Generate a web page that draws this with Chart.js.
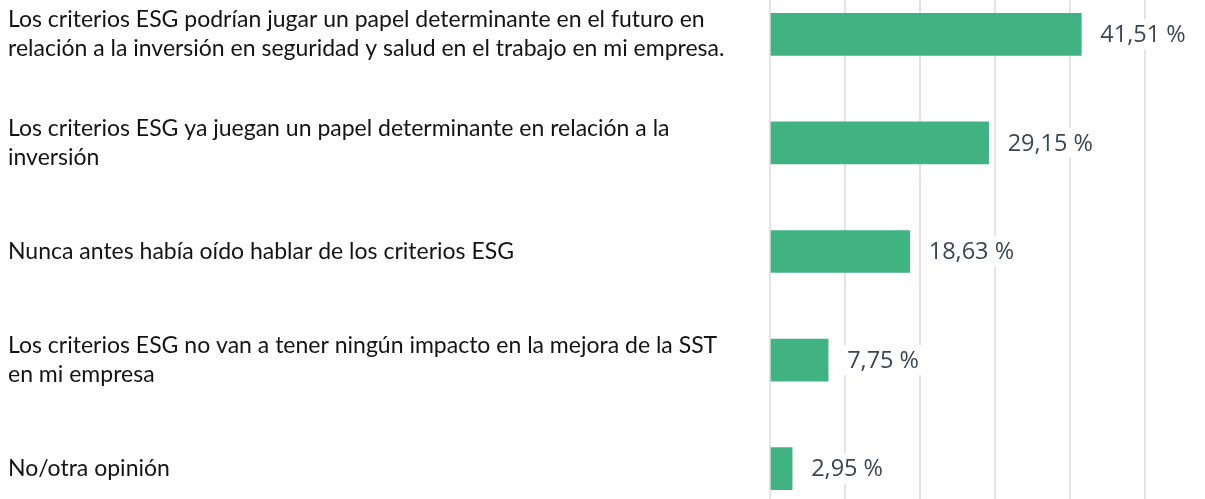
<!DOCTYPE html>
<html>
<head>
<meta charset="utf-8">
<script src="https://cdn.jsdelivr.net/npm/chart.js@4.4.1/dist/chart.umd.min.js"></script>
<style>
  html, body { margin: 0; padding: 0; background: #ffffff; overflow: hidden; }
  #wrap { position: relative; width: 1205px; height: 499px; overflow: hidden; }
  #box { position: absolute; left: 0; top: -20px; width: 1205px; height: 543px; }
</style>
</head>
<body>
<div id="wrap"><div id="box"><canvas id="c"></canvas></div></div>
<script>
const categories = [
  ["Los criterios ESG podrían jugar un papel determinante en el futuro en", "relación a la inversión en seguridad y salud en el trabajo en mi empresa."],
  ["Los criterios ESG ya juegan un papel determinante en relación a la", "inversión"],
  "Nunca antes había oído hablar de los criterios ESG",
  ["Los criterios ESG no van a tener ningún impacto en la mejora de la SST", "en mi empresa"],
  "No/otra opinión"
];
const values = [41.51, 29.15, 18.63, 7.75, 2.95];
const valueLabels = ["41,51 %", "29,15 %", "18,63 %", "7,75 %", "2,95 %"];

const valueLabelPlugin = {
  id: 'valueLabels',
  afterDatasetsDraw(chart) {
    const ctx = chart.ctx;
    const meta = chart.getDatasetMeta(0);
    ctx.save();
    ctx.font = '23.5px "Open Sans"';
    ctx.textBaseline = 'middle';
    ctx.textAlign = 'left';
    meta.data.forEach((bar, i) => {
      const txt = valueLabels[i];
      const x = bar.x + 19;
      const y = bar.y;
      const w = ctx.measureText(txt).width;
      ctx.fillStyle = '#ffffff';
      ctx.fillRect(x - 5, y - 15, w + 10, 30);
      ctx.fillStyle = '#3b4651';
      ctx.fillText(txt, x, y + 1);
    });
    ctx.restore();
  }
};

new Chart(document.getElementById('c'), {
  type: 'bar',
  data: {
    labels: categories,
    datasets: [{
      data: values,
      backgroundColor: '#41b383',
      borderWidth: 0,
      barThickness: 42
    }]
  },
  options: {
    indexAxis: 'y',
    responsive: true,
    maintainAspectRatio: false,
    animation: false,
    layout: { padding: { left: 8, right: 0, top: 0, bottom: 0 } },
    plugins: { legend: { display: false }, tooltip: { enabled: false } },
    scales: {
      x: {
        min: 0,
        max: 58,
        ticks: { display: false, stepSize: 10 },
        grid: {
          color: (c) => (c.tick && c.tick.value % 10 === 0) ? '#e4e4e4' : 'rgba(0,0,0,0)',
          lineWidth: 2,
          drawTicks: false
        },
        border: { display: false },
        afterFit(scale) { scale.height = 0; scale.paddingLeft = 0; scale.paddingRight = 0; }
      },
      y: {
        ticks: {
          crossAlign: 'far',
          color: '#141414',
          font: { family: 'Lato', size: 23, lineHeight: 1.27 },
          padding: 0
        },
        grid: { display: false, drawTicks: false },
        border: { display: false },
        afterFit(scale) { scale.width = 762; scale.paddingTop = 0; scale.paddingBottom = 0; }
      }
    }
  },
  plugins: [valueLabelPlugin]
});
</script>
</body>
</html>
